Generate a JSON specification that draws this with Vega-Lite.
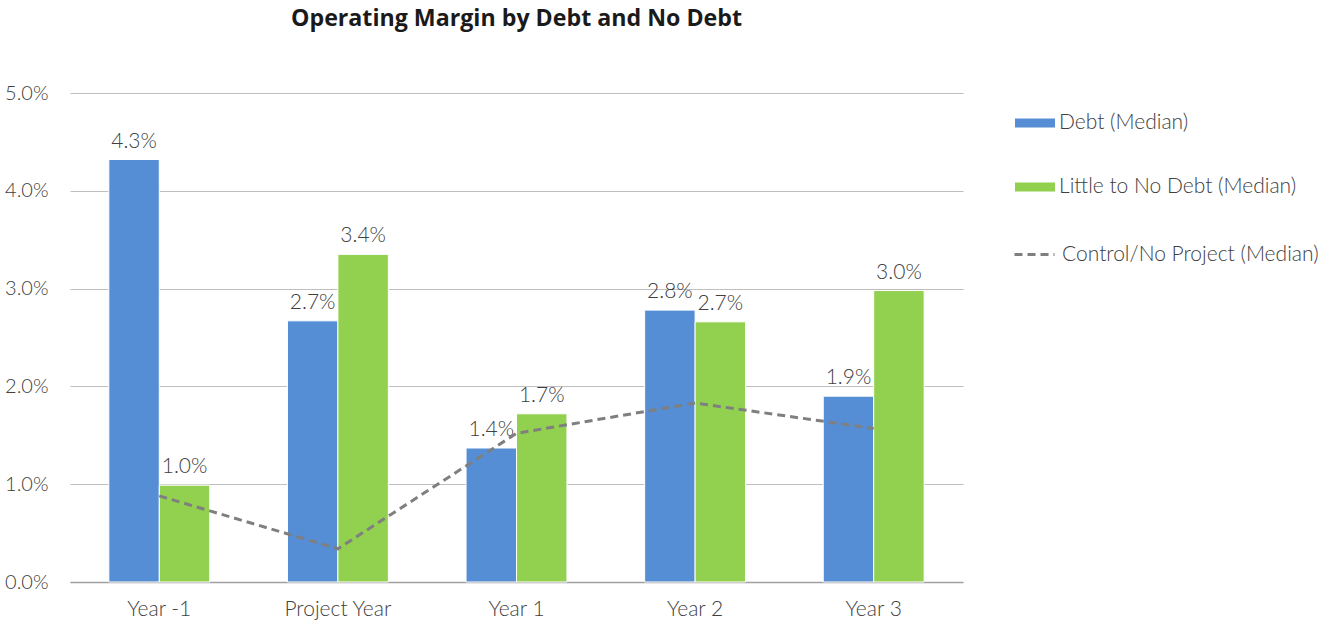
{
  "$schema": "https://vega.github.io/schema/vega-lite/v6.json",
  "width": 893,
  "height": 489,
  "autosize": {"type": "none"},
  "padding": {"left": 70, "top": 93, "right": 357, "bottom": 39},
  "background": "white",
  "title": {
    "text": "Operating Margin by Debt and No Debt",
    "anchor": "middle",
    "frame": "group",
    "font": "Open Sans",
    "fontSize": 23.2,
    "fontWeight": "bold",
    "color": "#1a1a1a",
    "offset": 52
  },
  "data": {
    "values": [
      {"cat": "Year -1", "series": "Debt (Median)", "value": 0.0432},
      {"cat": "Year -1", "series": "Little to No Debt (Median)", "value": 0.0099},
      {"cat": "Year -1", "series": "Control/No Project (Median)", "value": 0.0088},
      {"cat": "Project Year", "series": "Debt (Median)", "value": 0.0267},
      {"cat": "Project Year", "series": "Little to No Debt (Median)", "value": 0.0335},
      {"cat": "Project Year", "series": "Control/No Project (Median)", "value": 0.0034},
      {"cat": "Year 1", "series": "Debt (Median)", "value": 0.0137},
      {"cat": "Year 1", "series": "Little to No Debt (Median)", "value": 0.0172},
      {"cat": "Year 1", "series": "Control/No Project (Median)", "value": 0.0152},
      {"cat": "Year 2", "series": "Debt (Median)", "value": 0.0278},
      {"cat": "Year 2", "series": "Little to No Debt (Median)", "value": 0.0266},
      {"cat": "Year 2", "series": "Control/No Project (Median)", "value": 0.0183},
      {"cat": "Year 3", "series": "Debt (Median)", "value": 0.0190},
      {"cat": "Year 3", "series": "Little to No Debt (Median)", "value": 0.0298},
      {"cat": "Year 3", "series": "Control/No Project (Median)", "value": 0.0157}
    ]
  },
  "encoding": {
    "x": {
      "field": "cat",
      "type": "nominal",
      "sort": ["Year -1", "Project Year", "Year 1", "Year 2", "Year 3"],
      "scale": {"paddingInner": 0.435, "paddingOuter": 0.2175},
      "axis": {
        "title": null,
        "labelAngle": 0,
        "ticks": false,
        "labelPadding": 16,
        "labelFontSize": 21,
        "labelFont": "Lato",
        "labelFontWeight": 300,
        "labelColor": "#404040",
        "domainColor": "#a0a0a0",
        "domainWidth": 1.5
      }
    }
  },
  "layer": [
    {
      "transform": [{"filter": "datum.series !== 'Control/No Project (Median)'"}],
      "mark": {"type": "bar", "stroke": "white", "strokeWidth": 1},
      "encoding": {
        "xOffset": {
          "field": "series",
          "type": "nominal",
          "sort": ["Debt (Median)", "Little to No Debt (Median)"],
          "scale": {"paddingInner": 0, "paddingOuter": 0}
        },
        "y": {
          "field": "value",
          "type": "quantitative",
          "scale": {"domain": [0, 0.05], "nice": false},
          "axis": {
            "title": null,
            "values": [0, 0.01, 0.02, 0.03, 0.04, 0.05],
            "format": ".1%",
            "ticks": false,
            "domain": false,
            "labelPadding": 22,
            "labelFontSize": 20,
            "labelFont": "Lato",
            "labelFontWeight": 300,
            "labelColor": "#404040",
            "gridColor": "#bfbfbf",
            "gridWidth": 1
          }
        },
        "color": {
          "field": "series",
          "type": "nominal",
          "scale": {
            "domain": ["Debt (Median)", "Little to No Debt (Median)"],
            "range": ["#558ed5", "#92d050"]
          },
          "legend": {
            "title": null,
            "orient": "none",
            "legendX": 945,
            "legendY": 10,
            "labelFont": "Lato",
            "labelFontWeight": 300,
            "labelFontSize": 21,
            "labelColor": "#404040",
            "labelOffset": 4,
            "symbolType": "M-1,-0.22H1V0.22H-1Z",
            "symbolSize": 1600,
            "symbolStrokeWidth": 0,
            "symbolOpacity": 1,
            "rowPadding": 34,
            "labelLimit": 400
          }
        }
      }
    },
    {
      "transform": [{"filter": "datum.series !== 'Control/No Project (Median)'"}],
      "mark": {"type": "text", "baseline": "alphabetic", "dy": -12, "font": "Lato", "fontWeight": 300, "fontSize": 21, "color": "#404040"},
      "encoding": {
        "xOffset": {
          "field": "series",
          "type": "nominal",
          "sort": ["Debt (Median)", "Little to No Debt (Median)"]
        },
        "y": {"field": "value", "type": "quantitative"},
        "text": {"field": "value", "type": "quantitative", "format": ".1%"}
      }
    },
    {
      "transform": [{"filter": "datum.series === 'Control/No Project (Median)'"}],
      "mark": {"type": "line", "strokeWidth": 3, "color": "#7f7f7f"},
      "encoding": {
        "y": {"field": "value", "type": "quantitative"},
        "strokeDash": {
          "field": "series",
          "type": "nominal",
          "scale": {"domain": ["Control/No Project (Median)"], "range": [[8, 5]]},
          "legend": {
            "title": null,
            "orient": "none",
            "legendX": 943,
            "legendY": 140,
            "labelFont": "Lato",
            "labelFontWeight": 300,
            "labelFontSize": 21,
            "labelColor": "#404040",
            "labelOffset": 6,
            "symbolType": "stroke",
            "symbolSize": 1600,
            "symbolStrokeColor": "#7f7f7f",
            "symbolStrokeWidth": 3,
            "symbolOpacity": 1,
            "labelLimit": 400
          }
        }
      }
    }
  ],
  "config": {
    "view": {"stroke": null}
  }
}
